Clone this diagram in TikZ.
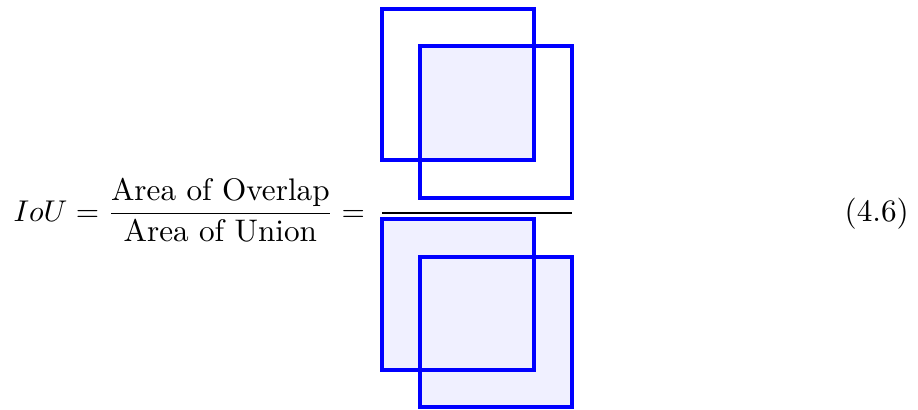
\documentclass[tikz,border=0pt]{standalone}
\usepackage{amsmath}
\begin{document}
\begin{tikzpicture}[x=0.3333pt,y=-0.3333pt,
  sq/.style={draw=blue,line width=1.25pt},
  ovl/.style={fill=blue!6},
  txt/.style={inner sep=0pt,anchor=base west,font=\fontsize{10.4}{12.5}\selectfont}]
\useasboundingbox (0,0) rectangle (918,409);
% top: overlap
\fill[ovl] (420,46) rectangle (534,160);
\draw[sq] (382,9) rectangle (534,160);
\draw[sq] (420,46) rectangle (572,198);
% fraction bar
\coordinate (barL) at (382,213);
\coordinate (barR) at (572,213);
\draw[line width=0.45pt] (barL) -- (barR);
% bottom: union
\fill[ovl] (382,219) rectangle (534,370);
\fill[ovl] (420,257) rectangle (572,407);
\draw[sq] (382,219) rectangle (534,370);
\draw[sq] (420,257) rectangle (572,407);
% formula
\node[txt] (formula) at (13,221) {$\displaystyle IoU = \frac{\text{Area of Overlap}}{\text{Area of Union}} =$};
\node[txt] (eqno) at (844,221) {(4.6)};
\end{tikzpicture}
\end{document}
